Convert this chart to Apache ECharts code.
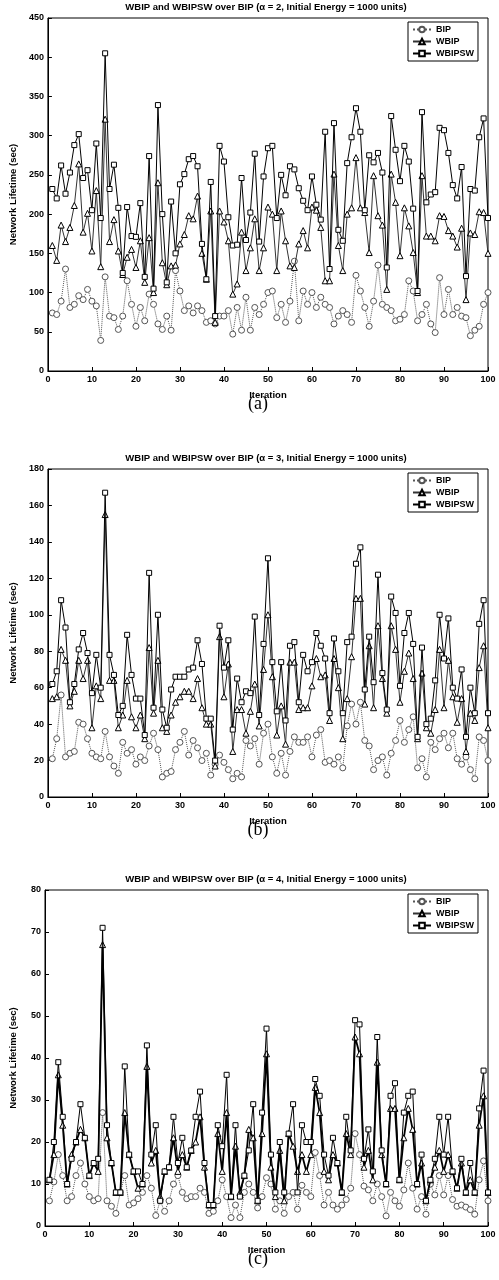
<!DOCTYPE html>
<html>
<head>
<meta charset="utf-8">
<script src="https://cdn.jsdelivr.net/npm/echarts@6/dist/echarts.min.js"></script>
<style>
  html, body { margin: 0; padding: 0; background: #fff; }
  #chart { width: 499px; height: 1280px; }
</style>
</head>
<body>
<div id="chart"></div>
<script>
// (a) alpha = 2
var aBIP = [74,72,89,130,81,85,96,91,104,89, 83,39,120,70,68,53,70,115,85,57,
  81,64,98,85,60,53,70,52,128,102, 77,83,74,83,77,62,64,60,70,70,
  77,47,81,52,94,52,81,72,85,100, 102,68,85,62,89,140,64,102,85,100,
  81,94,85,81,60,70,77,72,62,122, 102,81,57,89,135,85,81,77,64,66,
  72,115,102,64,72,85,60,49,119,72, 104,72,81,70,68,45,52,57,85,100];
var aWBIP = [160,141,186,165,183,211,264,177,201,153, 230,133,321,165,193,153,123,145,155,132,
  166,113,170,100,240,138,110,134,135,162, 174,198,194,223,150,117,204,62,204,190,
  166,98,111,177,128,157,194,128,157,209, 200,128,204,166,134,132,162,179,157,209,
  205,183,115,115,251,160,128,200,208,272, 208,202,151,249,198,186,104,251,215,147,
  208,185,151,100,249,172,172,166,198,197, 179,172,158,182,91,176,174,203,202,150];
var aWBIPSW = [232,220,262,226,253,288,302,246,256,205, 290,195,405,232,263,208,125,209,172,171,
  214,120,274,105,339,200,113,216,150,238, 251,270,274,261,162,117,241,70,287,267,
  196,160,161,246,167,202,277,165,248,284, 287,195,250,224,261,257,233,217,205,248,
  212,193,305,130,316,180,166,265,298,335, 305,205,275,266,278,253,132,325,282,242,
  287,267,207,102,330,215,225,228,310,307, 278,237,220,260,121,232,230,298,322,195];

// (b) alpha = 3
var bBIP = [21,32,56,22,24,25,41,40,32,24, 22,21,36,22,17,13,30,24,26,18,
  22,20,28,35,26,11,13,14,26,30, 36,23,31,27,20,24,12,18,23,19,
  15,10,13,11,31,28,32,18,35,40, 22,13,24,12,25,33,30,30,33,22,
  34,37,19,20,18,22,16,39,51,40, 52,31,28,15,20,22,12,24,31,42,
  30,37,44,16,21,11,30,26,32,35, 27,35,21,18,22,15,10,33,31,20];
var bWBIP = [54,55,81,75,50,58,75,65,75,38, 61,54,155,64,64,38,45,64,44,38,
  45,32,82,46,75,38,36,45,52,55, 58,58,54,65,49,40,40,17,88,55,
  73,25,48,48,35,47,62,39,70,100, 66,34,50,29,74,74,48,49,49,61,
  76,66,67,42,76,60,32,54,77,109, 109,51,83,49,94,65,46,94,81,52,
  69,79,65,32,68,38,35,48,81,49, 75,55,41,54,25,46,42,71,83,38];
var bWBIPSW = [62,69,108,93,52,62,81,90,79,57, 78,60,167,78,67,45,50,89,67,54,
  54,34,123,49,100,48,38,59,66,66, 66,70,71,86,73,43,43,20,94,71,
  86,37,65,52,58,57,99,45,84,131, 74,47,74,42,83,85,52,78,69,74,
  90,83,76,46,87,69,46,85,88,128, 137,59,88,63,122,68,48,110,101,61,
  90,101,84,33,82,40,43,64,100,76, 98,60,54,70,33,60,46,95,108,46];

// (c) alpha = 4
var cBIP = [6,10.5,17,12,6,7,12,15,10,7, 6,6.5,27,6,4.7,3,8,12,5,5.5,
  6.5,8,12,9,2.5,6,3.5,6,10,12, 8,6.5,7,7,9,8,3,3.5,6,11,
  7,2,5,2,8,10,8,4.3,7,11.5, 10,4,6,3,7,8,4,9.7,8,7,
  17.5,12,5,8,5,4,5,6.3,9,22, 17,9.5,8.6,6,10,7,2.4,8,6,4.7,
  8.6,15,9,4,7,2.8,10,7.4,12,7.4, 12,6.3,4.7,5,4.5,3.9,2.8,11,15.5,6];
var cWBIP = [11,17,36,24,10,17,20,23,21,12, 15,13,67,21,15,8,8,27,17,13,
  9,10,38,15,18,7,13,14,21,13, 17,14,18,20,26,14,5,5,22,13,
  27,7,19,8,12,23,21,6,22,41, 14,7,18,6,22,19,13,17,13,17,
  33,27,13,11,17,15,8,22,17,45, 41,14,18,11,39,17,10,28,28,11,
  21,28,23,10,15,6,11,14,18,13, 17,13,9,15,8,11,8,24,31,8];
var cWBIPSW = [11,20,39,26,10,16,20,29,21,12, 15,16,71,24,15,8,8,38,17,13,
  13,10,43,17,24,6,13,14,26,15, 21,14,18,26,32,15,5,5,24,19,
  36,7,24,7,12,18,29,6,27,47, 17,8,20,8,22,29,8,24,20,20,
  35,31,17,12,21,15,8,26,18,49, 48,16,23,13,45,18,10,31,34,11,
  27,31,32,10,17,6,11,16,26,17, 26,13,9,16,8,15,8,28,37,8];

var seriesNames = ['BIP', 'WBIP', 'WBIPSW'];
var panelAlpha = [2, 3, 4];
var panelLetters = ['(a)', '(b)', '(c)'];
var yMax = [450, 180, 80];
var yStep = [50, 20, 10];
var panelData = [[aBIP, aWBIP, aWBIPSW], [bBIP, bWBIP, bWBIPSW], [cBIP, cWBIP, cWBIPSW]];

var font = '"Liberation Sans", Arial, sans-serif';
var gridTop = [18, 469, 890];
var gridHeight = [353, 328, 336];

function pairs(arr) {
    return arr.map(function (v, k) { return [k + 1, v]; });
}

var grids = [], xAxes = [], yAxes = [], series = [], titles = [], legends = [];

for (var p = 0; p < 3; p++) {
    grids.push({
        left: 44, width: 444, top: gridTop[p], height: gridHeight[p],
        show: true, borderColor: '#000', borderWidth: 1, backgroundColor: 'transparent'
    });
    xAxes.push({
        type: 'value', gridIndex: p, min: 0, max: 100, interval: 10,
        name: 'Iteration', nameLocation: 'middle', nameGap: 19,
        nameTextStyle: { fontFamily: font, fontSize: 9.5, fontWeight: 'bold', color: '#000' },
        axisLine: { lineStyle: { color: '#000', width: 1 } },
        axisTick: { inside: true, length: 4, lineStyle: { color: '#000' } },
        axisLabel: { fontFamily: font, fontSize: 9, fontWeight: 'bold', color: '#000', margin: 4 },
        splitLine: { show: false }
    });
    yAxes.push({
        type: 'value', gridIndex: p, min: 0, max: yMax[p], interval: yStep[p],
        name: 'Network Lifetime (sec)', nameLocation: 'middle', nameGap: 27, nameRotate: 90,
        nameTextStyle: { fontFamily: font, fontSize: 9.5, fontWeight: 'bold', color: '#000' },
        axisLine: { show: true, lineStyle: { color: '#000', width: 1 } },
        axisTick: { inside: true, length: 4, lineStyle: { color: '#000' } },
        axisLabel: { fontFamily: font, fontSize: 9, fontWeight: 'bold', color: '#000', margin: 4 },
        splitLine: { show: false }
    });
    titles.push({
        text: 'WBIP and WBIPSW over BIP (\u03b1 = ' + panelAlpha[p] + ', Initial Energy = 1000 units)',
        left: 266, top: gridTop[p] - 16, textAlign: 'center', padding: 0,
        textStyle: { fontFamily: font, fontSize: 9.5, fontWeight: 'bold', color: '#000' }
    });
    titles.push({
        text: panelLetters[p],
        left: 258, top: gridTop[p] + gridHeight[p] + 24, textAlign: 'center', padding: 0,
        textStyle: { fontFamily: '"Liberation Serif", "Times New Roman", serif', fontSize: 18, fontWeight: 'normal', color: '#000' }
    });
    legends.push({
        data: seriesNames, orient: 'vertical', left: 408, top: gridTop[p] + 4,
        itemWidth: 18, itemHeight: 7, itemGap: 3, padding: [3, 4, 3, 4],
        borderColor: '#000', borderWidth: 1, borderRadius: 0, backgroundColor: '#fff',
        selectedMode: false,
        textStyle: { fontFamily: font, fontSize: 9, fontWeight: 'bold', color: '#000', padding: [0, 0, 0, 0] }
    });

    var d = panelData[p];
    series.push({
        name: 'BIP', type: 'line', xAxisIndex: p, yAxisIndex: p, z: 2,
        data: pairs(d[0]), symbol: 'circle', symbolSize: 6,
        lineStyle: { color: '#555', width: 1, type: 'dotted' },
        itemStyle: { color: '#fff', borderColor: '#555', borderWidth: 1 }
    });
    series.push({
        name: 'WBIP', type: 'line', xAxisIndex: p, yAxisIndex: p, z: 3,
        data: pairs(d[1]), symbol: 'triangle', symbolSize: 6,
        lineStyle: { color: p === 2 ? '#000' : '#333', width: p === 2 ? 1.8 : 1 },
        itemStyle: { color: '#fff', borderColor: '#000', borderWidth: 1 }
    });
    series.push({
        name: 'WBIPSW', type: 'line', xAxisIndex: p, yAxisIndex: p, z: 4,
        data: pairs(d[2]), symbol: 'rect', symbolSize: 5,
        lineStyle: { color: '#000', width: 1 },
        itemStyle: { color: '#fff', borderColor: '#000', borderWidth: 1 }
    });
}

var myChart = echarts.init(document.getElementById('chart'));
var option = {
    animation: false,
    backgroundColor: '#fff',
    title: titles,
    legend: legends,
    grid: grids,
    xAxis: xAxes,
    yAxis: yAxes,
    series: series
};
myChart.setOption(option);
</script>
</body>
</html>
